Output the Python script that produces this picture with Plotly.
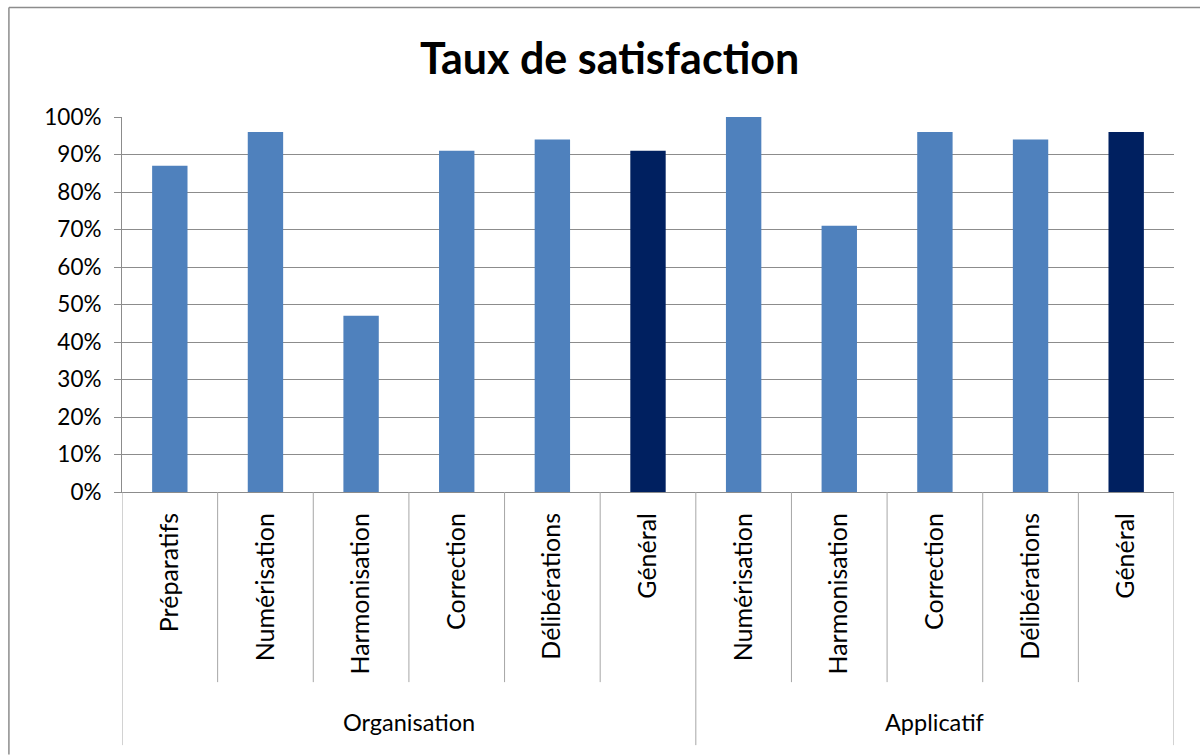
import plotly.graph_objects as go

# Satisfaction rates per step, grouped by domain
group_names = ["Organisation", "Applicatif"]
groups = ["Organisation"] * 6 + ["Applicatif"] * 5
steps = ["Préparatifs", "Numérisation", "Harmonisation", "Correction", "Délibérations", "Général",
         "Numérisation", "Harmonisation", "Correction", "Délibérations", "Général"]
rates = [0.87, 0.96, 0.47, 0.91, 0.94, 0.91, 1.00, 0.71, 0.96, 0.94, 0.96]

LIGHT = "#4F81BD"
DARK = "#002060"
GRID = "#8C8C8C"
SEP = "#A6A6A6"
colors = [DARK if s == "Général" else LIGHT for s in steps]

FONT = "Lato, 'Open Sans', sans-serif"

pos = list(range(len(steps)))

fig = go.Figure(go.Bar(
    x=pos,
    y=rates,
    marker=dict(color=colors, line=dict(width=0)),
    width=0.37,
))

fig.update_layout(
    width=1200, height=755,
    margin=dict(l=122, r=26, t=117, b=263),
    paper_bgcolor="white", plot_bgcolor="white",
    showlegend=False,
    title=dict(text="<b>Taux de satisfaction</b>", x=0.508, xanchor="center",
               y=0.922, yanchor="middle",
               font=dict(family=FONT, size=43, color="black")),
    font=dict(family=FONT, size=22, color="black"),
)

fig.update_yaxes(
    range=[0, 1], dtick=0.1, tickformat=".0%",
    showgrid=True, gridcolor=GRID, gridwidth=1,
    ticks="outside", ticklen=7, tickcolor=GRID,
    showline=True, linecolor=GRID,
    zeroline=False, ticklabelstandoff=8,
    tickfont=dict(size=22.5),
)

fig.update_xaxes(
    range=[-0.5, len(steps) - 0.5],
    tickmode="array", tickvals=pos, ticktext=steps,
    tickangle=-90, ticks="", ticklabelstandoff=10,
    showgrid=False, zeroline=False,
    showline=True, linecolor=GRID,
    tickfont=dict(size=25),
)

# Separators between categories (short) and around groups (long)
edges = [i - 0.5 for i in range(len(steps) + 1)]
group_edges = [-0.5] + [i + 0.5 for i in range(len(groups) - 1) if groups[i] != groups[i + 1]] + [len(steps) - 0.5]
for e in edges:
    long = e in group_edges
    fig.add_shape(type="line", xref="x", yref="paper",
                  x0=e, x1=e, y0=0, y1=-0.675 if long else -0.507,
                  line=dict(color=SEP, width=1))

# Group labels centred under their categories
for g in group_names:
    idx = [i for i, gg in enumerate(groups) if gg == g]
    fig.add_annotation(x=sum(idx) / len(idx), y=-0.613, xref="x", yref="paper",
                       text=g, showarrow=False, yanchor="middle",
                       font=dict(family=FONT, size=23.5, color="black"))

# Outer frame of the chart area
fig.add_shape(type="line", xref="paper", yref="paper",
              x0=-0.1075, x1=1.1, y0=1.292, y1=1.292,
              line=dict(color=GRID, width=1.5))
fig.add_shape(type="line", xref="paper", yref="paper",
              x0=-0.1075, x1=-0.1075, y0=1.292, y1=-0.7,
              line=dict(color=GRID, width=1.5))

fig.write_html("out.html")
